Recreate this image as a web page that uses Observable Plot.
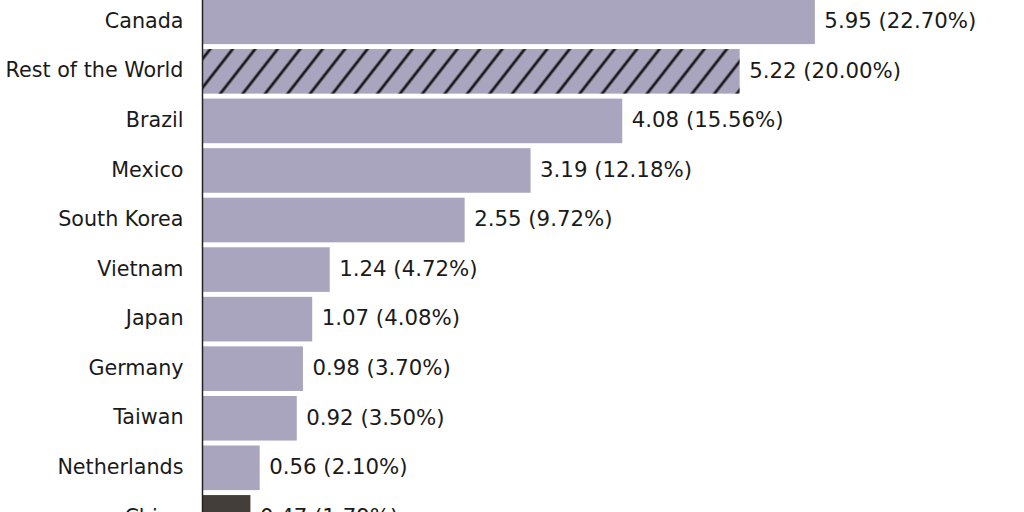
<!DOCTYPE html>
<html>
<head>
<meta charset="utf-8">
<script src="https://cdn.jsdelivr.net/npm/d3@7"></script>
<script src="https://cdn.jsdelivr.net/npm/@observablehq/plot@0.6"></script>
<style>
  html, body { margin: 0; padding: 0; background: #fff; }
  #wrap { width: 1024px; height: 512px; overflow: hidden; position: relative; }
  #wrap svg { display: block; margin-top: -2.8px; }
</style>
</head>
<body>
<div id="wrap"></div>
<script>
const countries = ["Canada", "Rest of the World", "Brazil", "Mexico", "South Korea", "Vietnam", "Japan", "Germany", "Taiwan", "Netherlands", "China"];
const values = [5.95, 5.22, 4.08, 3.19, 2.55, 1.24, 1.07, 0.98, 0.92, 0.56, 0.47];
const shares = ["22.70%", "20.00%", "15.56%", "12.18%", "9.72%", "4.72%", "4.08%", "3.70%", "3.50%", "2.10%", "1.79%"];
const kinds = ["country", "rest", "country", "country", "country", "country", "country", "country", "country", "country", "china"];

const data = countries.map((c, i) => ({
  country: c,
  value: values[i],
  label: `${values[i].toFixed(2)} (${shares[i]})`,
  kind: kinds[i]
}));

const fills = {country: "#a9a5bf", rest: "url(#hatch)", china: "#433e39"};

const step = 49.56;
const H = countries.length * step;

const chart = Plot.plot({
  width: 1024,
  height: H,
  marginLeft: 202,
  marginRight: 101,
  marginTop: 0,
  marginBottom: 0,
  style: {fontFamily: "DejaVu Sans", fontSize: "20.7px", color: "#1a1a1a", background: "#fff"},
  x: {domain: [0, 7], axis: null},
  y: {domain: countries, paddingInner: 0.1, paddingOuter: 0.05, round: false, label: null, tickSize: 0, tickPadding: 19},
  marks: [
    () => {
      const ns = "http://www.w3.org/2000/svg";
      const w = 17.7;
      const defs = document.createElementNS(ns, "defs");
      const p = document.createElementNS(ns, "pattern");
      p.setAttribute("id", "hatch");
      p.setAttribute("patternUnits", "userSpaceOnUse");
      p.setAttribute("width", w);
      p.setAttribute("height", w);
      p.setAttribute("patternTransform", "rotate(38)");
      const bg = document.createElementNS(ns, "rect");
      bg.setAttribute("width", w);
      bg.setAttribute("height", w);
      bg.setAttribute("fill", "#a9a5bf");
      const ln = document.createElementNS(ns, "line");
      ln.setAttribute("x1", "3"); ln.setAttribute("x2", "3");
      ln.setAttribute("y1", "0"); ln.setAttribute("y2", w);
      ln.setAttribute("stroke", "#1a1a1a");
      ln.setAttribute("stroke-width", "2.8");
      p.appendChild(bg); p.appendChild(ln);
      defs.appendChild(p);
      return defs;
    },
    Plot.barX(data, {x: "value", y: "country", fill: d => fills[d.kind]}),
    Plot.text(data, {x: "value", y: "country", text: "label", textAnchor: "start", dx: 9, dy: -1, fontSize: 21.3, fill: "#1a1a1a"}),
    Plot.ruleX([0], {stroke: "#222", strokeWidth: 1.5}),
    Plot.axisY({tickSize: 0, tickPadding: 19, label: null, fontSize: 20.7, fill: "#1a1a1a", dy: -1})
  ]
});
document.getElementById("wrap").appendChild(chart);
</script>
</body>
</html>
